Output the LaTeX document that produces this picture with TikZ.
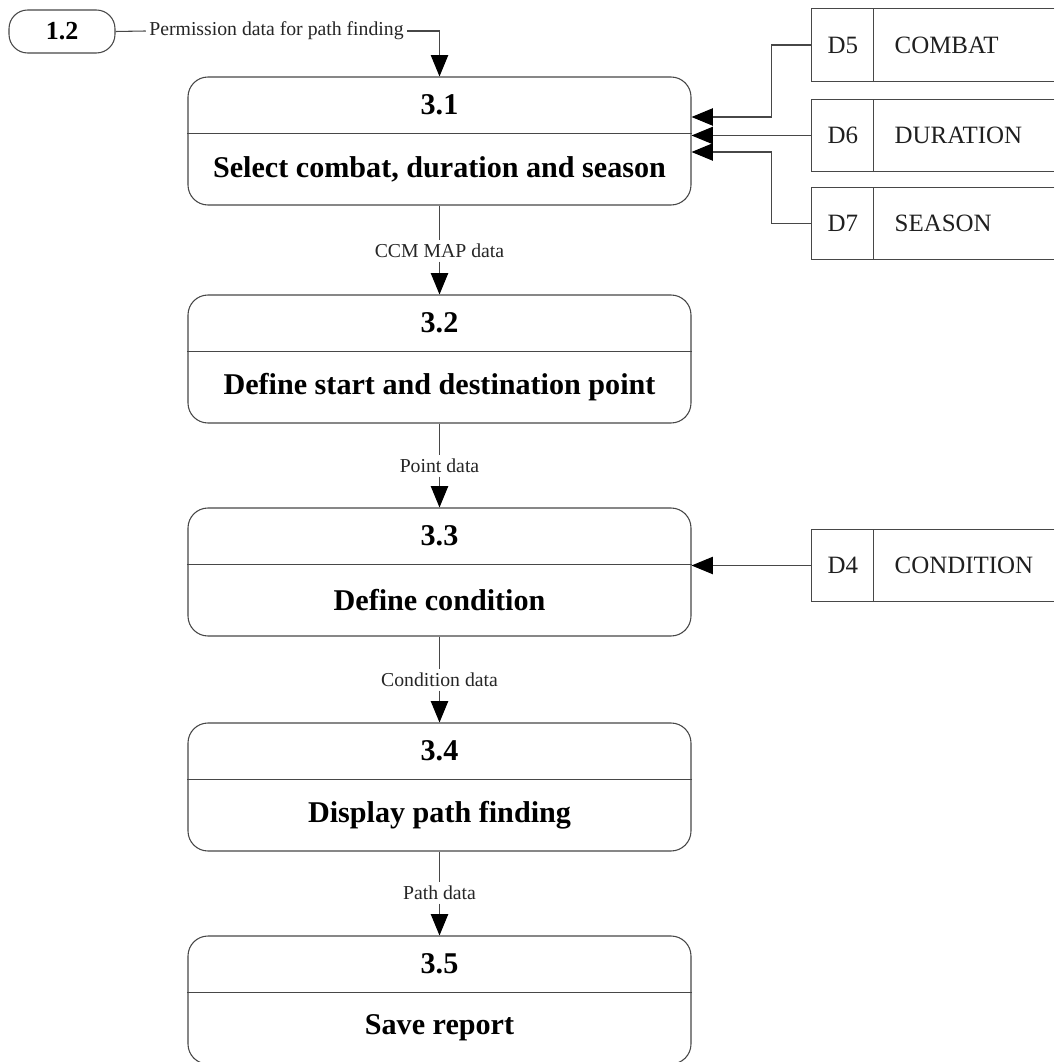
\documentclass[tikz,border=0pt]{standalone}
\usepackage{fontspec}
\setmainfont{Liberation Serif}
\usetikzlibrary{arrows.meta}
\begin{document}
\begin{tikzpicture}[x=0.75pt,y=-0.75pt,
  line/.style={draw=black!72,line width=0.8pt},
  flow/.style={line,-{Triangle[length=16pt,width=13pt,color=black]}},
  procbox/.style={line,rectangle,rounded corners=15pt,minimum width=377.25pt,minimum height=96pt,inner sep=0pt},
  termbox/.style={line,rectangle,rounded corners=14pt,minimum width=79.5pt,minimum height=32.25pt,inner sep=0pt,
    font=\fontsize{19.5}{22}\selectfont\bfseries},
  proctext/.style={font=\fontsize{22.6}{26}\selectfont\bfseries,inner sep=0pt},
  flowlabel/.style={font=\fontsize{14.8}{17}\selectfont,text=black!85,inner sep=2.5pt,fill=white},
  storebox/.style={rectangle,minimum width=181.5pt,minimum height=54pt,inner sep=0pt},
  storetext/.style={font=\fontsize{18.7}{22}\selectfont,text=black!88,inner sep=0pt}
]
\useasboundingbox (0,0) rectangle (1054,1062);

% processes 3.1 .. 3.5
\foreach \id/\num/\title/\top in {
  p31/3.1/{Select combat, duration and season}/77,
  p32/3.2/{Define start and destination point}/295,
  p33/3.3/{Define condition}/508,
  p34/3.4/{Display path finding}/723,
  p35/3.5/{Save report}/936}{
  \node[procbox] (\id) at (439.5,\top+64) {};
  \draw[line] ([yshift=-42.75pt]\id.north west) -- ([yshift=-42.75pt]\id.north east);
  \node[proctext] (\id num) at ([yshift=-21.5pt]\id.north) {\num};
  \node[proctext] (\id name) at ([yshift=-69.5pt]\id.north) {\title};
}

% external process 1.2
\node[termbox] (t12) at (62,31.5) {1.2};
\node[flowlabel] (perm) at (276.5,31) {Permission data for path finding};
\draw[line] (t12.east) -- (perm.west);
\draw[flow] (perm.east) -| (p31.north);

% flows between processes
\node[flowlabel] (f1) at (439.5,251) {CCM MAP data};
\node[flowlabel] (f2) at (439.5,466) {Point data};
\node[flowlabel] (f3) at (439.5,680) {Condition data};
\node[flowlabel] (f4) at (439.5,893) {Path data};
\draw[line] (p31.south) -- (f1.north);
\draw[flow] (f1.south) -- (p32.north);
\draw[line] (p32.south) -- (f2.north);
\draw[flow] (f2.south) -- (p33.north);
\draw[line] (p33.south) -- (f3.north);
\draw[flow] (f3.south) -- (p34.north);
\draw[line] (p34.south) -- (f4.north);
\draw[flow] (f4.south) -- (p35.north);

% data stores (open on the right)
\foreach \id/\code/\label/\cy in {
  ds5/D5/COMBAT/45,
  ds6/D6/DURATION/135.5,
  ds7/D7/SEASON/223.5,
  ds4/D4/CONDITION/565.5}{
  \node[storebox] (\id) at (933,\cy) {};
  \draw[line] (\id.north east) -- (\id.north west) -- (\id.south west) -- (\id.south east);
  \draw[line] ([xshift=46.5pt]\id.north west) -- ([xshift=46.5pt]\id.south west);
  \node[storetext] (\id code) at ([xshift=23.25pt]\id.west) {\code};
  \node[storetext,anchor=west] (\id name) at ([xshift=62pt]\id.west) {\label};
}

% store reads
\draw[flow] (ds5.west) -- ++(-40,0) |- (p31.east |- 0,117);
\draw[flow] (ds6.west) -- (p31.east |- ds6.west);
\draw[flow] (ds7.west) -- ++(-40,0) |- (p31.east |- 0,152);
\draw[flow] (ds4.west) -- (p33.east |- ds4.west);
\end{tikzpicture}
\end{document}
